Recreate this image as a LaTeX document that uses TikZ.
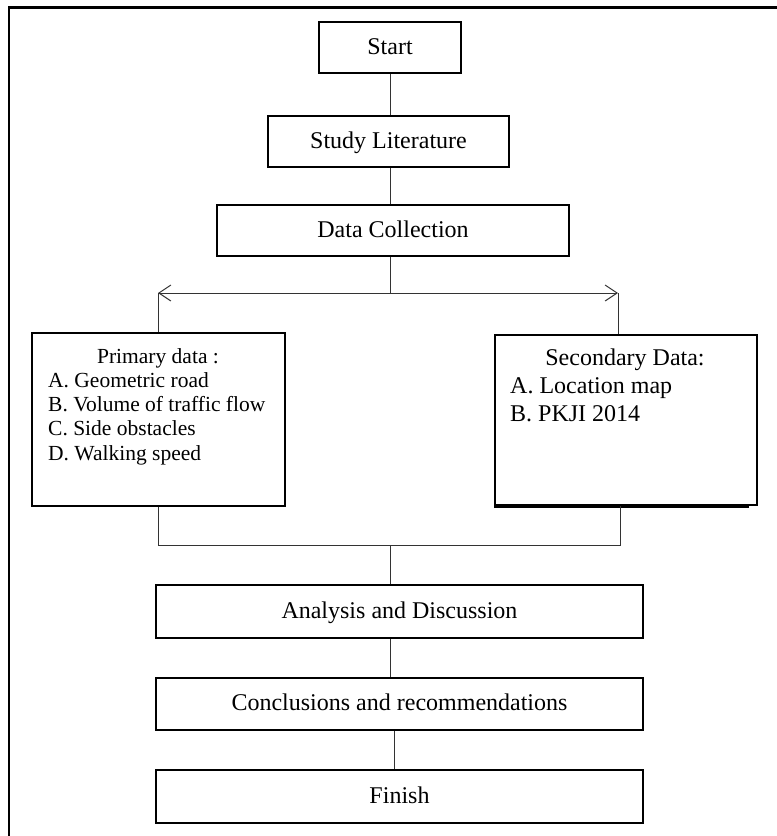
\documentclass[tikz,border=0pt]{standalone}
\usepackage{fontspec}
\setmainfont{Liberation Serif}
\usetikzlibrary{arrows.meta, positioning}

\begin{document}
\begin{tikzpicture}[x=1pt, y=-1pt,
  caixa/.style={draw, line width=1.6pt, minimum height=51pt, inner sep=0pt,
    font=\fontsize{24}{28}\selectfont, text height=18pt, text depth=5pt},
  quadro/.style={draw, line width=1.4pt, inner sep=0pt},
  liga/.style={line width=1pt, black!80},
  lista/.style={inner sep=0pt, anchor=base west}]
  \useasboundingbox (0,0) rectangle (777,836);
  % moldura
  \draw[line width=2.6pt] (777,7.5) -- (9,7.5) -- (9,836);
  % etapas iniciais
  \node[caixa, minimum width=142] (start) at (390,47.5) {Start};
  \node[caixa, minimum width=241] (lit) at (388.5,141.5) {Study Literature};
  \node[caixa, minimum width=352] (coll) at (393,230.5) {Data Collection};
  \draw[liga] (start.south) -- (start.south |- lit.north);
  \draw[liga] (start.south |- lit.south) -- (start.south |- coll.north);
  % divisao dos dados
  \coordinate (mid) at (390,293);
  \coordinate (lsplit) at (158,293);
  \coordinate (rsplit) at (618,293);
  \draw[liga] (mid |- coll.south) -- (mid);
  \draw[liga, {Straight Barb[length=12pt, width=16pt]}-{Straight Barb[length=12pt, width=16pt]}]
    (lsplit) -- (rsplit);
  % dados primarios
  \node[quadro, minimum width=253, minimum height=173] (prim) at (158.5,419.5) {};
  \draw[liga] (lsplit) -- (lsplit |- prim.north);
  \node[inner sep=0pt, anchor=base, font=\fontsize{21.5}{24}\selectfont] (primtit)
    at (158,363) {Primary data :};
  \foreach \txt [count=\i] in {A. Geometric road, B. Volume of traffic flow,
      C. Side obstacles, D. Walking speed}
    \node[lista, font=\fontsize{21.5}{24}\selectfont] (prim\i) at (48,363+24.3*\i) {\txt};
  % dados secundarios
  \node[quadro, minimum width=262, minimum height=170] (sec) at (626,420) {};
  \draw[line width=2pt] ([yshift=-1.4pt]sec.south west) -- ([xshift=-9pt, yshift=-1.4pt]sec.south east);
  \draw[liga] (rsplit) -- (rsplit |- sec.north);
  \node[inner sep=0pt, anchor=base, font=\fontsize{24}{28}\selectfont] (sectit)
    at (625,365) {Secondary Data:};
  \foreach \txt [count=\i] in {A. Location map, B. PKJI 2014}
    \node[lista, font=\fontsize{24}{28}\selectfont] (sec\i) at (510,365+28*\i) {\txt};
  % juncao
  \coordinate (lbot) at (158,545);
  \coordinate (rbot) at (620,545);
  \draw[liga] (lbot |- prim.south) -- (lbot) -- (rbot) -- (rbot |- sec.south);
  % etapas finais
  \node[caixa, minimum width=487, minimum height=53] (ana) at (399.5,611.5) {Analysis and Discussion};
  \node[caixa, minimum width=487, minimum height=52] (conc) at (399.5,704) {Conclusions and recommendations};
  \node[caixa, minimum width=487, minimum height=53] (fin) at (399.5,796.5) {Finish};
  \draw[liga] (mid |- lbot) -- (mid |- ana.north);
  \draw[liga] (mid |- ana.south) -- (mid |- conc.north);
  \draw[liga] ([xshift=-5.5pt]conc.south) -- ([xshift=-5.5pt]conc.south |- fin.north);
\end{tikzpicture}
\end{document}
